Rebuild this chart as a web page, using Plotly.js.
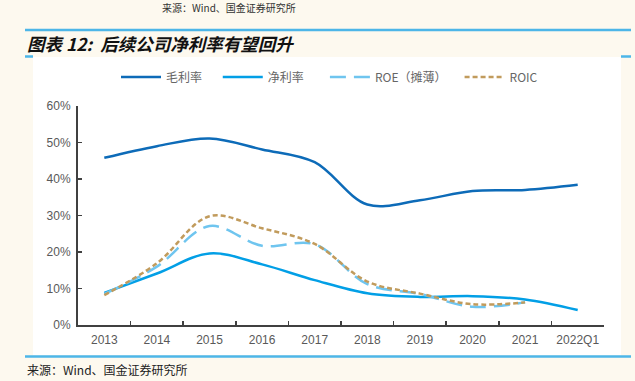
<!DOCTYPE html>
<html>
<head>
<meta charset="utf-8">
<script src="https://cdn.plot.ly/plotly-3.0.1.min.js"></script>
<style>
html,body{margin:0;padding:0;background:#fdf9ef;}
#chart{width:635px;height:381px;}
</style>
</head>
<body>
<div id="chart"></div>
<script>
const categories = ['2013','2014','2015','2016','2017','2018','2019','2020','2021','2022Q1'];
const grossMargin = [0.458, 0.490, 0.511, 0.481, 0.446, 0.330, 0.342, 0.367, 0.370, 0.384];
const netMargin   = [0.088, 0.141, 0.196, 0.166, 0.123, 0.087, 0.077, 0.079, 0.070, 0.041];
const roe         = [0.085, 0.160, 0.271, 0.217, 0.221, 0.112, 0.085, 0.050, 0.062];
const roic        = [0.082, 0.169, 0.298, 0.265, 0.222, 0.119, 0.086, 0.057, 0.062];
const seriesNames = ['毛利率', '净利率', 'ROE（摊薄）', 'ROIC'];

const L = 78, R = 604, T = 106, B = 325;
const fx = p => (p - L) / (R - L);
const fy = p => (B - p) / (B - T);
const cjk = '"Noto Sans CJK SC", "Liberation Sans", Arial, sans-serif';
const blue = '#4db6e8';
const pad = n => '\u00a0'.repeat(n);

const mk = (y, name, color, dash) => ({
  x: categories.slice(0, y.length), y: y, name: name, type: 'scatter', mode: 'lines',
  line: {color: color, width: 2.5, shape: 'spline', smoothing: 1, dash: dash},
  hoverinfo: 'skip'
});

const data = [
  mk(grossMargin, seriesNames[0] + pad(4), '#0d6bb8', 'solid'),
  mk(netMargin, seriesNames[1] + pad(6), '#029fe6', 'solid'),
  mk(roe, seriesNames[2] + pad(3), '#6fc5ef', '16px,8px'),
  mk(roic, seriesNames[3], '#c19b5c', '5px,3px')
];

const line = (x0, y0, x1, y1, w) => ({type: 'line', xref: 'paper', yref: 'paper', layer: 'below',
  x0: fx(x0), x1: fx(x1), y0: fy(y0), y1: fy(y1), line: {color: blue, width: w}});

const layout = {
  width: 635, height: 381,
  margin: {l: L, r: 635 - R, t: T, b: 381 - B},
  paper_bgcolor: '#fdf9ef', plot_bgcolor: 'rgba(0,0,0,0)',
  font: {family: cjk, size: 12, color: '#595959'},
  showlegend: true,
  legend: {orientation: 'h', x: fx(116), xanchor: 'left', y: fy(77), yanchor: 'middle', itemwidth: 40,
    font: {family: cjk, size: 12, color: '#666666'}, bgcolor: 'rgba(0,0,0,0)', traceorder: 'normal'},
  xaxis: {type: 'category', categoryorder: 'array', categoryarray: categories,
    range: [-0.5, categories.length - 0.5], tickson: 'boundaries', ticks: 'inside', ticklen: 4,
    tickcolor: '#404040', tickwidth: 1.5, showline: true, linecolor: '#404040', linewidth: 2,
    showgrid: false, zeroline: false, fixedrange: true, ticklabelstandoff: 3,
    tickfont: {family: '"Liberation Sans", Arial, sans-serif', size: 12, color: '#595959'}},
  yaxis: {range: [0, 0.6], dtick: 0.1, tick0: 0, tickformat: '.0%', ticks: 'inside', ticklen: 4,
    tickcolor: '#404040', tickwidth: 1.5, showline: true, linecolor: '#404040', linewidth: 2,
    showgrid: false, zeroline: false, fixedrange: true, ticklabelstandoff: 3,
    tickfont: {family: '"Liberation Sans", Arial, sans-serif', size: 12, color: '#595959'}},
  shapes: [
    line(25, 30, 631, 30, 2.5),
    line(25, 56.5, 33, 56.5, 2.5),
    line(621, 56.5, 631, 56.5, 2.5),
    {type: 'rect', xref: 'paper', yref: 'paper', layer: 'below', x0: fx(33), x1: fx(621), y0: fy(57), y1: fy(355),
      fillcolor: '#ffffff', line: {width: 0}},
    line(25, 356.5, 631, 356.5, 2.5)
  ],
  annotations: [
    {text: '来源：Wind、国金证券研究所', xref: 'paper', yref: 'paper', x: fx(160), y: fy(8),
      xanchor: 'left', yanchor: 'middle', showarrow: false, font: {family: cjk, size: 10, color: '#333333'}},
    {text: '<b><i>图表 12:  后续公司净利率有望回升</i></b>', xref: 'paper', yref: 'paper', x: fx(25), y: fy(44),
      xanchor: 'left', yanchor: 'middle', showarrow: false, font: {family: cjk, size: 17.5, color: '#111111'}},
    {text: '来源：Wind、国金证券研究所', xref: 'paper', yref: 'paper', x: fx(25), y: fy(369),
      xanchor: 'left', yanchor: 'middle', showarrow: false, font: {family: cjk, size: 12, color: '#222222'}}
  ]
};

Plotly.newPlot('chart', data, layout, {staticPlot: true, displayModeBar: false});
</script>
</body>
</html>
